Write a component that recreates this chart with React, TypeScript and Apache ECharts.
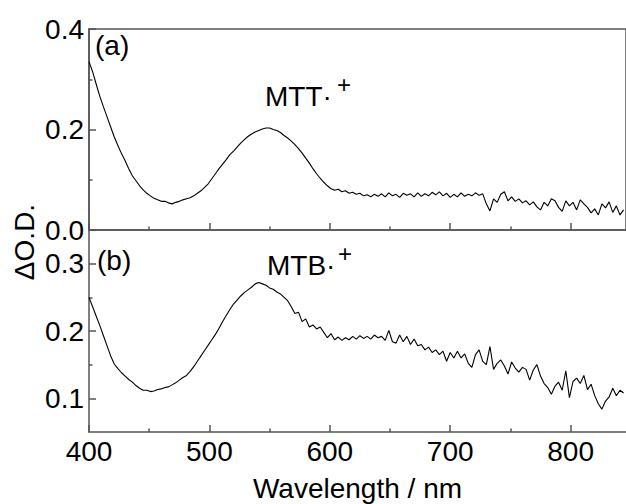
import React, { useEffect, useRef } from "react";
import * as echarts from "echarts";

// Wavelength grid (nm)
const wavelength = [
  400, 403, 406, 409, 412, 415, 418, 421, 424, 427,
  430, 433, 436, 439, 442, 445, 448, 451, 454, 457,
  460, 463, 466, 469, 472, 475, 478, 481, 484, 487,
  490, 493, 496, 499, 502, 505, 508, 511, 514, 517,
  520, 523, 526, 529, 532, 535, 538, 541, 544, 547,
  550, 553, 556, 559, 562, 565, 568, 571, 574, 577,
  580, 583, 586, 589, 592, 595, 598, 601, 604, 607,
  610, 613, 616, 619, 622, 625, 628, 631, 634, 637,
  640, 643, 646, 649, 652, 655, 658, 661, 664, 667,
  670, 673, 676, 679, 682, 685, 688, 691, 694, 697,
  700, 703, 706, 709, 712, 715, 718, 721, 724, 727,
  730, 733, 736, 739, 742, 745, 748, 751, 754, 757,
  760, 763, 766, 769, 772, 775, 778, 781, 784, 787,
  790, 793, 796, 799, 802, 805, 808, 811, 814, 817,
  820, 823, 826, 829, 832, 835, 838, 841, 844,
];

// (a) MTT radical cation, ΔO.D.
const odA = [
  0.335, 0.315, 0.290, 0.266, 0.245, 0.225, 0.205, 0.185, 0.168, 0.152,
  0.138, 0.122, 0.108, 0.098, 0.088, 0.080, 0.073, 0.068, 0.063, 0.060,
  0.057, 0.057, 0.054, 0.052, 0.055, 0.057, 0.060, 0.062, 0.064, 0.068,
  0.073, 0.078, 0.085, 0.092, 0.102, 0.112, 0.122, 0.131, 0.140, 0.150,
  0.157, 0.165, 0.173, 0.180, 0.186, 0.191, 0.195, 0.198, 0.201, 0.203,
  0.203, 0.200, 0.198, 0.194, 0.188, 0.183, 0.177, 0.170, 0.162, 0.153,
  0.143, 0.133, 0.122, 0.112, 0.103, 0.095, 0.088, 0.082, 0.079, 0.081,
  0.076, 0.078, 0.073, 0.075, 0.071, 0.073, 0.068, 0.070, 0.066, 0.071,
  0.067, 0.072, 0.066, 0.074, 0.068, 0.071, 0.065, 0.073, 0.069, 0.072,
  0.066, 0.074, 0.067, 0.072, 0.068, 0.075, 0.070, 0.076, 0.068, 0.073,
  0.065, 0.071, 0.066, 0.074, 0.067, 0.071, 0.068, 0.074, 0.069, 0.072,
  0.052, 0.038, 0.062, 0.055, 0.071, 0.076, 0.058, 0.066, 0.057, 0.062,
  0.054, 0.058, 0.050, 0.056, 0.046, 0.040, 0.055, 0.048, 0.062, 0.058,
  0.045, 0.037, 0.058, 0.048, 0.055, 0.040, 0.060, 0.052, 0.045, 0.034,
  0.042, 0.030, 0.052, 0.044, 0.056, 0.035, 0.048, 0.030, 0.040,
];

// (b) MTB radical cation, ΔO.D.
const odB = [
  0.250, 0.236, 0.222, 0.208, 0.193, 0.178, 0.163, 0.151, 0.144, 0.138,
  0.133, 0.128, 0.124, 0.119, 0.115, 0.112, 0.112, 0.110, 0.111, 0.113,
  0.114, 0.116, 0.117, 0.120, 0.123, 0.127, 0.131, 0.134, 0.140, 0.147,
  0.155, 0.163, 0.171, 0.179, 0.187, 0.195, 0.204, 0.214, 0.223, 0.232,
  0.240, 0.246, 0.252, 0.257, 0.261, 0.265, 0.270, 0.272, 0.270, 0.268,
  0.264, 0.262, 0.258, 0.255, 0.250, 0.245, 0.236, 0.226, 0.228, 0.214,
  0.218, 0.206, 0.209, 0.203, 0.206, 0.198, 0.190, 0.196, 0.187, 0.191,
  0.186, 0.190, 0.187, 0.192, 0.188, 0.193, 0.189, 0.192, 0.188, 0.194,
  0.190, 0.192, 0.186, 0.201, 0.184, 0.182, 0.194, 0.184, 0.192, 0.180,
  0.188, 0.178, 0.180, 0.172, 0.176, 0.168, 0.172, 0.165, 0.170, 0.155,
  0.168, 0.160, 0.170, 0.160, 0.166, 0.152, 0.146, 0.165, 0.172, 0.155,
  0.150, 0.177, 0.143, 0.152, 0.157, 0.148, 0.136, 0.154, 0.145, 0.139,
  0.146, 0.143, 0.127, 0.142, 0.150, 0.133, 0.122, 0.116, 0.106, 0.118,
  0.124, 0.112, 0.141, 0.101, 0.125, 0.130, 0.122, 0.134, 0.113, 0.121,
  0.104, 0.092, 0.084, 0.096, 0.102, 0.115, 0.104, 0.112, 0.108,
];

const xMajorTicks = [400, 500, 600, 700, 800];
const xMinorTicks = [450, 550, 650, 750];
const yTopMajor = [0, 0.2, 0.4];
const yTopMinor = [0.1, 0.3];
const yBotMajor = [0.1, 0.2, 0.3];
const yBotMinor = [0.15, 0.25];

const FONT = "'Liberation Sans', Arial, Helvetica, sans-serif";
const AXIS_COLOR = "#555";

export default function App() {
  const ref = useRef<HTMLDivElement>(null);

  useEffect(() => {
    if (!ref.current) return;
    const chart = echarts.init(ref.current, undefined, { renderer: "svg" });

    const lineStyle = { color: AXIS_COLOR, width: 1.5 };
    const labelStyle = { fontSize: 28, color: "#000", fontFamily: FONT };

    const xMajor = (gridIndex: number, showLabels: boolean) => ({
      type: "value",
      gridIndex,
      position: "bottom",
      min: 400,
      max: 846,
      axisLine: { show: true, onZero: false, lineStyle },
      axisTick: { show: true, inside: true, length: 7, customValues: xMajorTicks, lineStyle },
      axisLabel: {
        show: showLabels,
        customValues: xMajorTicks,
        margin: 5,
        ...labelStyle,
      },
      splitLine: { show: false },
      ...(showLabels
        ? {
            name: "Wavelength / nm",
            nameLocation: "middle",
            nameGap: 42,
            nameTextStyle: { fontSize: 28, color: "#000", fontFamily: FONT },
          }
        : {}),
    });
    const xMinor = (gridIndex: number) => ({
      type: "value",
      gridIndex,
      position: "bottom",
      min: 400,
      max: 846,
      axisLine: { show: false, onZero: false },
      axisTick: { show: true, inside: true, length: 3.5, customValues: xMinorTicks, lineStyle },
      axisLabel: { show: false },
      splitLine: { show: false },
    });
    const yMajor = (gridIndex: number, min: number, max: number, ticks: number[]) => ({
      type: "value",
      gridIndex,
      position: "left",
      min,
      max,
      axisLine: { show: true, onZero: false, lineStyle },
      axisTick: { show: true, inside: true, length: 7, customValues: ticks, lineStyle },
      axisLabel: {
        show: true,
        customValues: ticks,
        margin: 5,
        formatter: (v: number) => v.toFixed(1),
        ...labelStyle,
      },
      splitLine: { show: false },
    });
    const yMinor = (gridIndex: number, min: number, max: number, ticks: number[]) => ({
      type: "value",
      gridIndex,
      position: "left",
      min,
      max,
      axisLine: { show: false, onZero: false },
      axisTick: { show: true, inside: true, length: 3.5, customValues: ticks, lineStyle },
      axisLabel: { show: false },
      splitLine: { show: false },
    });

    const textStyle = (text: string, size: number) => ({
      text,
      font: `${size}px ${FONT}`,
      fill: "#000",
    });

    chart.setOption({
      animation: false,
      backgroundColor: "#fff",
      grid: [
        {
          left: 89,
          top: 29,
          right: -2,
          height: 201,
          show: true,
          borderColor: AXIS_COLOR,
          borderWidth: 1.5,
          backgroundColor: "transparent",
        },
        { left: 89, top: 230, right: -2, height: 202 },
      ],
      xAxis: [xMajor(0, false), xMinor(0), xMajor(1, true), xMinor(1)],
      yAxis: [
        yMajor(0, 0, 0.4, yTopMajor),
        yMinor(0, 0, 0.4, yTopMinor),
        yMajor(1, 0.05, 0.35, yBotMajor),
        yMinor(1, 0.05, 0.35, yBotMinor),
      ],
      series: [
        {
          name: "MTT",
          type: "line",
          xAxisIndex: 0,
          yAxisIndex: 0,
          showSymbol: false,
          lineStyle: { color: "#000", width: 1.1 },
          data: wavelength.map((w, i) => [w, odA[i]]),
        },
        {
          name: "MTB",
          type: "line",
          xAxisIndex: 2,
          yAxisIndex: 2,
          showSymbol: false,
          lineStyle: { color: "#000", width: 1.1 },
          data: wavelength.map((w, i) => [w, odB[i]]),
        },
      ],
      graphic: [
        {
          type: "text",
          x: 24,
          y: 242,
          rotation: Math.PI / 2,
          style: { ...textStyle("ΔO.D.", 28), align: "center", verticalAlign: "middle" },
        },
        {
          type: "text",
          x: 95,
          y: 45,
          style: { ...textStyle("(a)", 28), align: "left", verticalAlign: "middle" },
        },
        {
          type: "text",
          x: 97,
          y: 260,
          style: { ...textStyle("(b)", 28), align: "left", verticalAlign: "middle" },
        },
        {
          type: "text",
          x: 265,
          y: 96,
          style: { ...textStyle("MTT·", 28), align: "left", verticalAlign: "middle" },
        },
        {
          type: "text",
          x: 344,
          y: 84,
          style: { ...textStyle("+", 24), align: "center", verticalAlign: "middle" },
        },
        {
          type: "text",
          x: 267,
          y: 265,
          style: { ...textStyle("MTB·", 28), align: "left", verticalAlign: "middle" },
        },
        {
          type: "text",
          x: 345,
          y: 253,
          style: { ...textStyle("+", 24), align: "center", verticalAlign: "middle" },
        },
      ],
    });

    return () => chart.dispose();
  }, []);

  return (
    <div
      ref={ref}
      style={{ position: "absolute", left: 0, top: 0, width: 626, height: 504, background: "#fff" }}
    />
  );
}
